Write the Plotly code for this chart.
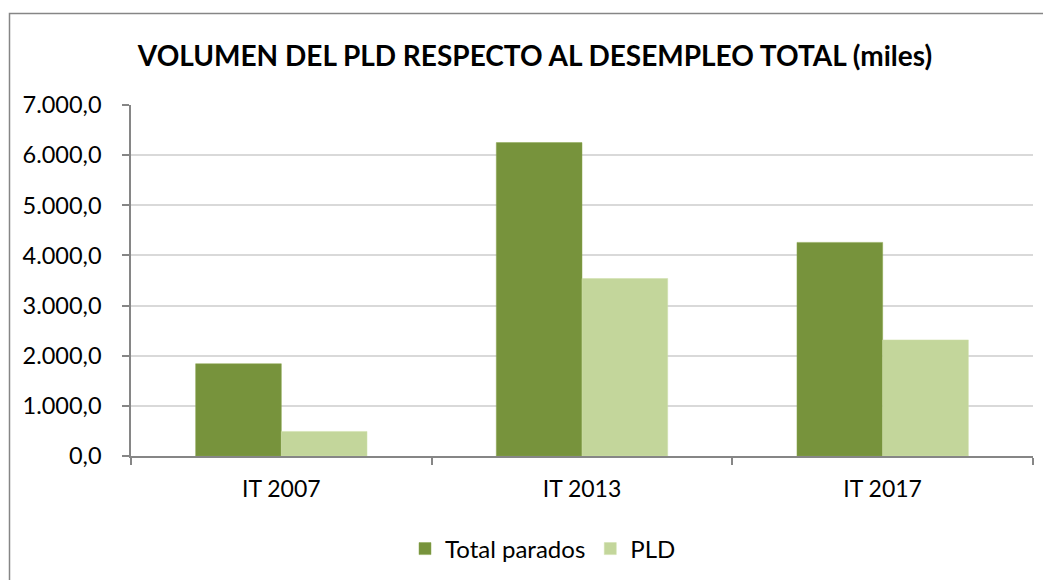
import plotly.graph_objects as go

categories = ["IT 2007", "IT 2013", "IT 2017"]
total_parados = [1840, 6250, 4260]
pld = [490, 3540, 2315]
y_ticks = [0, 1000, 2000, 3000, 4000, 5000, 6000, 7000]

FONT = "Lato"
OFF = 8  # page body margin
W, H = 1051 - OFF, 580 - OFF
L, R, T, B = 131 - OFF, 1033 - OFF, 105 - OFF, 456 - OFF

fig = go.Figure()
fig.add_trace(go.Bar(x=categories, y=total_parados, name="Total parados",
                     marker=dict(color="#77933C", line=dict(color="#8aa64f", width=0.5))))
fig.add_trace(go.Bar(x=categories, y=pld, name="PLD",
                     marker=dict(color="#C3D69B", line=dict(color="#cfe0ab", width=0.5))))

pw, ph = R - L, B - T
def px(x):
    return (x - OFF - L) / pw
def py(y):
    return (B - (y - OFF)) / ph

fig.update_layout(
    width=W, height=H,
    margin=dict(l=L, r=W - R, t=T, b=H - B, autoexpand=False),
    paper_bgcolor="white", plot_bgcolor="white",
    barmode="group", bargap=0.43, bargroupgap=0,
    separators=",.",
    font=dict(family=FONT, size=23, color="#000000"),
    title=dict(text="<b>VOLUMEN DEL PLD RESPECTO AL DESEMPLEO TOTAL (miles)</b>",
               x=(535 - OFF) / W, xanchor="center", y=1 - (56 - OFF) / H, yanchor="middle",
               font=dict(family=FONT, size=28, color="#000000")),
    xaxis=dict(showline=True, linecolor="#868686", linewidth=1.5,
               ticks="outside", ticklen=7, tickcolor="#868686", tickwidth=1.5,
               tickson="boundaries", showgrid=False, ticklabelstandoff=12,
               tickfont=dict(family=FONT, size=23)),
    yaxis=dict(range=[0, 7000], tickvals=y_ticks, tickformat=",.1f",
               showline=True, linecolor="#868686", linewidth=1.5,
               ticks="outside", ticklen=7, tickcolor="#868686", tickwidth=1.5,
               showgrid=True, gridcolor="#d9d9d9", gridwidth=1.5,
               zeroline=False, ticklabelstandoff=16,
               tickfont=dict(family=FONT, size=23.5)),
    legend=dict(orientation="h", x=px(543), xanchor="center", y=py(549), yanchor="middle",
                font=dict(family=FONT, size=24), itemwidth=30, traceorder="normal"),
    showlegend=True,
)

fig.add_shape(type="rect", xref="paper", yref="paper",
              x0=px(9.5), x1=px(1070), y0=py(600), y1=py(13.5),
              line=dict(color="#868686", width=1.5), fillcolor="rgba(0,0,0,0)", layer="below")

fig.write_html("out.html")
